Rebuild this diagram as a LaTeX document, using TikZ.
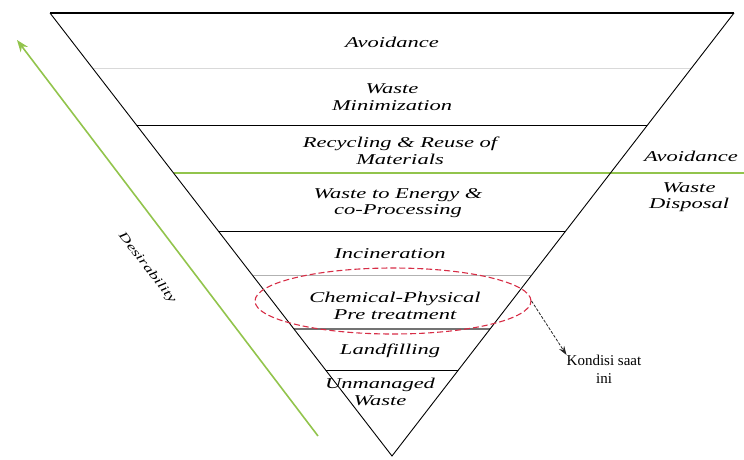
\documentclass[tikz,border=0pt]{standalone}
\usepackage{fontspec}
\setmainfont{Liberation Serif}
\newfontfamily\widefont[FakeStretch=1.5]{Liberation Serif}
\usepackage{xcolor}
\usetikzlibrary{shapes.geometric, arrows.meta, positioning}
\definecolor{leaf}{RGB}{146,196,76}
\definecolor{mark}{RGB}{215,45,70}
\tikzset{
    base/.style={align=center, inner sep=0pt},
    level/.style={base, font=\widefont\itshape\fontsize{15}{16.5}\selectfont},
    note/.style={base, font=\fontsize{15}{18}\selectfont},
    divider/.style={draw=black, line width=0.8pt},
    faint/.style={draw=black!15, line width=0.5pt},
    arrow/.style={line width=0.8pt,-{Stealth[length=9pt, width=6pt]}, dash pattern=on 3pt off 1.5pt, draw=black!85}
}

\begin{document}
\begin{tikzpicture}[x=1pt, y=-1pt]
        \useasboundingbox (0,0) rectangle (744,459);
        % Pyramid
        \coordinate (tl) at (50,13);
        \coordinate (tr) at (734,13);
        \coordinate (bot) at (392,456);
        \begin{scope}
            \clip (tl) -- (tr) -- (bot) -- cycle;
            \draw [faint] (0,68) -- (744,68);
            \draw [divider] (0,125) -- (744,125);
            \draw [divider] (0,231) -- (744,231);
            \draw [draw=black!30, line width=0.6pt] (0,275) -- (744,275);
            \draw [draw=black!55, line width=1.6pt] (0,329) -- (744,329);
            \draw [draw=black, line width=0.6pt] (0,370) -- (744,370);
        \end{scope}
        \draw [draw=leaf, line width=2.6pt] (173.5,173) -- (744,173);
        \draw [line width=0.9pt] (tr) -- (bot) -- (tl);
        \draw [line width=1.4pt] (tl) -- (tr);

        % Nodes
        \node (avoid) [level] at (392,42) {Avoidance};
        \node (minim) [level] at (392,97) {Waste\\Minimization};
        \node (recyc) [level] at (400,151) {Recycling \& Reuse of\\Materials};
        \node (energy) [level] at (398,203) {Waste to Energy \&\\co-Processing};
        \node (incin) [level] at (390,254) {Incineration};
        \node (chem) [level] at (395,306) {Chemical-Physical\\Pre treatment};
        \node (landf) [level] at (390,351) {Landfilling};
        \node (unman) [level] at (380,392) {Unmanaged\\Waste};

        \node (avoidside) [level] at (691,156) {Avoidance};
        \node (dispside) [level] at (689,197) {Waste\\Disposal};

        \node (now) [ellipse, draw=mark, dash pattern=on 6pt off 3pt, line width=1.1pt, minimum width=276pt, minimum height=66pt] at (393,301) {};
        \node (state) [note, anchor=north] at (604,355) {Kondisi saat\\ini};

        \coordinate (low) at (318,436);
        \coordinate (high) at (17,40);
        \node (desire) [base, font=\widefont\itshape\fontsize{12}{14}\selectfont, rotate=-52] at (147,268) {Desirability};

        % Arrows
        \draw [arrow] (now.east) -- (state.north west);
        \draw [draw=leaf, line width=1.6pt, -{Stealth[length=12pt, width=9pt]}] (low) -- (high);
    \end{tikzpicture}
\end{document}
